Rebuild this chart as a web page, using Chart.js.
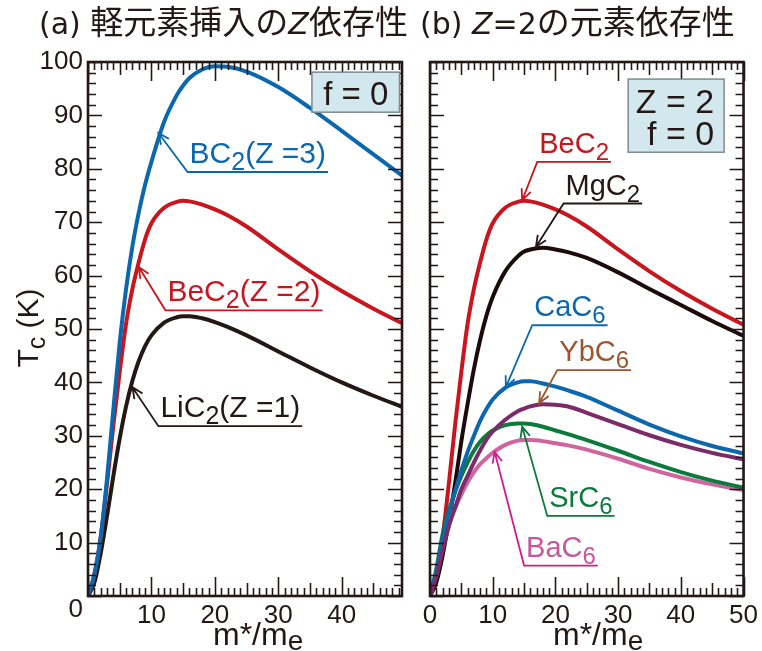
<!DOCTYPE html>
<html>
<head>
<meta charset="utf-8">
<script src="https://cdn.jsdelivr.net/npm/chart.js@4.4.1/dist/chart.umd.min.js"></script>
<style>
  html, body { margin: 0; padding: 0; background: #fff; }
  #wrap { position: relative; width: 762px; height: 651px; overflow: hidden; }
  #left { position: absolute; left: 0; top: 0; }
  #right { position: absolute; left: 416px; top: 0; }
</style>
</head>
<body>
<div id="wrap">
  <canvas id="left" width="416" height="651"></canvas>
  <canvas id="right" width="346" height="651"></canvas>
</div>
<script>
// m*/me values shared by every curve
const xs = [0, 1, 2, 3, 4, 5, 6, 7, 8, 9, 10, 12, 14, 15, 16, 18, 20, 22, 25, 30, 35, 40, 45, 50];

// (a) light-element intercalation, Tc (K)
const bc2  = [0, 4, 11, 22, 35, 47.5, 57.5, 65.5, 71.8, 77, 81.3, 88.8, 93.8, 95.6, 97.0, 98.6, 99.2, 99.1, 98.2, 95.3, 91.4, 87.1, 82.7, 78.3];
const bec2 = [0, 4, 11, 21, 32, 42, 51, 57.5, 62.5, 66.8, 69.8, 72.7, 73.8, 74.0, 73.9, 73.3, 72.4, 71.3, 69.2, 64.9, 60.8, 57.1, 53.8, 50.8];
const lic2 = [0, 2.5, 8, 15, 22.5, 29.5, 35.5, 40.3, 44.0, 46.8, 48.8, 51.2, 52.2, 52.4, 52.4, 52.0, 51.3, 50.4, 48.8, 45.8, 42.8, 40.0, 37.5, 35.2];

// (b) Z=2, element dependence, Tc (K)
const mgc2 = [0, 2.5, 7.5, 14, 21, 29, 36, 42.5, 48, 52.5, 56, 60.8, 63.6, 64.5, 64.9, 65.2, 64.9, 64.4, 63.3, 60.6, 57.5, 54.5, 51.5, 48.7];
const cac6 = [0, 4.5, 10.5, 15.5, 19.5, 23.5, 27, 30, 32.8, 35, 36.8, 39, 40, 40.2, 40.2, 39.8, 39.2, 38.5, 37.3, 34.7, 32.1, 29.9, 28.1, 26.7];
const ybc6 = [0, 3.5, 8.5, 13, 16.5, 20, 22.5, 25, 27.3, 29.3, 30.8, 33, 34.6, 35.1, 35.5, 35.9, 35.8, 35.5, 34.3, 32.2, 30.1, 28.3, 26.8, 25.6];
const src6 = [0, 5, 11.5, 16, 19.5, 22.5, 25, 27.2, 28.9, 30.1, 31, 32, 32.3, 32.3, 32.2, 31.7, 31, 30.3, 29.2, 27.2, 25.1, 23.2, 21.6, 20.3];
const bac6 = [0, 4.5, 10, 13.8, 16.5, 19, 21.3, 23.2, 24.7, 25.8, 26.8, 28.3, 29.1, 29.2, 29.2, 29.0, 28.6, 28.2, 27.4, 25.7, 23.8, 22.2, 20.9, 19.8];

// tick labels
const xLabelsA = [10, 20, 30, 40];
const xLabelsB = [0, 10, 20, 30, 40, 50];
const yLabels = [10, 20, 30, 40, 50, 60, 70, 80, 90, 100];

const INK = '#231815';
const BLUE = '#0b68ae';
const RED = '#c9151e';
const PURPLE = '#7a2b68';
const GREEN = '#0b7a3b';
const PINK = '#d0649f';
const BROWN = '#9b5630';
const MAGENTA = '#cf1f8c';
const SANS = '"Liberation Sans", Arial, sans-serif';
const JP = '"Noto Sans CJK JP", sans-serif';
const LAT = '"DejaVu Sans", sans-serif';

Chart.defaults.font.family = SANS;

function line(label, ys, color) {
  return {
    label,
    data: xs.map((x, i) => ({ x, y: ys[i] })),
    borderColor: color,
    borderWidth: 4,
    pointRadius: 0,
    fill: false,
    cubicInterpolationMode: 'monotone'
  };
}

function scales(xmax, xLabels, yWidth, showY) {
  return {
    x: {
      type: 'linear', min: 0, max: xmax,
      grid: { display: false, drawTicks: false },
      border: { display: false },
      ticks: {
        autoSkip: false, maxRotation: 0, padding: 4,
        color: INK, font: { size: 26 }
      },
      afterBuildTicks: s => { s.ticks = xLabels.map(v => ({ value: v })); },
      afterFit: s => { s.height = 55; }
    },
    y: {
      min: 0, max: 100,
      grid: { display: false, drawTicks: false },
      border: { display: false },
      ticks: {
        display: showY, autoSkip: false, padding: 5,
        color: INK, font: { size: 26 }
      },
      afterBuildTicks: s => { s.ticks = yLabels.map(v => ({ value: v })); },
      afterFit: s => { s.width = yWidth; }
    }
  };
}

// text made of runs: [{t, font, dy}]
function runs(ctx, parts, x, y) {
  for (const p of parts) {
    ctx.font = p.font;
    ctx.fillText(p.t, x, y + (p.dy || 0));
    x += ctx.measureText(p.t).width;
  }
  return x;
}
function runsWidth(ctx, parts) {
  let w = 0;
  for (const p of parts) { ctx.font = p.font; w += ctx.measureText(p.t).width; }
  return w;
}

// inward ticks and frame
const frame = {
  id: 'frame',
  afterDatasetsDraw(chart) {
    const { ctx, chartArea: a, scales: { x, y } } = chart;
    ctx.save();
    ctx.strokeStyle = INK;
    ctx.lineWidth = 1.6;
    ctx.beginPath();
    for (let v = 0; v <= x.max + 0.01; v += 1) {
      const px = Math.round(x.getPixelForValue(v)) + 0.5;
      const len = v % 10 === 0 ? 19 : v % 5 === 0 ? 13 : 8;
      ctx.moveTo(px, a.bottom); ctx.lineTo(px, a.bottom - len);
      ctx.moveTo(px, a.top); ctx.lineTo(px, a.top + len);
    }
    for (let v = 0; v <= 100; v += 2) {
      const py = Math.round(y.getPixelForValue(v)) + 0.5;
      const len = v % 10 === 0 ? 14 : 8;
      ctx.moveTo(a.left, py); ctx.lineTo(a.left + len, py);
      ctx.moveTo(a.right, py); ctx.lineTo(a.right - len, py);
    }
    ctx.stroke();
    ctx.lineWidth = 2.6;
    ctx.strokeRect(a.left, a.top, a.right - a.left, a.bottom - a.top);
    ctx.restore();
  }
};

// labelled arrows
function drawNotes(chart, notes, size) {
  const { ctx, scales: { x, y } } = chart;
  ctx.save();
  for (const n of notes) {
    const ux = x.getPixelForValue(n.at[0]);
    const uy = y.getPixelForValue(n.at[1]);
    const tx = x.getPixelForValue(n.tip[0]);
    const ty = y.getPixelForValue(n.tip[1]);
    const parts = [
      { t: n.pre, font: size + 'px ' + SANS },
      { t: n.sub, font: (size - 5) + 'px ' + SANS, dy: 7 }
    ];
    if (n.post) parts.push({ t: n.post, font: size + 'px ' + SANS });
    const w = runsWidth(ctx, parts);
    ctx.fillStyle = n.color;
    ctx.textBaseline = 'alphabetic';
    ctx.textAlign = 'left';
    runs(ctx, parts, ux + 2, uy - 9);
    const lc = n.lineColor || n.color;
    ctx.strokeStyle = lc;
    ctx.lineWidth = 1.8;
    ctx.beginPath();
    ctx.moveTo(ux + w + 4, uy);
    ctx.lineTo(ux, uy);
    ctx.lineTo(tx, ty);
    const ang = Math.atan2(ty - uy, tx - ux);
    const hl = 12, ha = 0.42;
    ctx.moveTo(tx - hl * Math.cos(ang - ha), ty - hl * Math.sin(ang - ha));
    ctx.lineTo(tx, ty);
    ctx.lineTo(tx - hl * Math.cos(ang + ha), ty - hl * Math.sin(ang + ha));
    ctx.stroke();
  }
  ctx.restore();
}

function drawBox(chart, box) {
  const { ctx, scales: { x, y } } = chart;
  const l = x.getPixelForValue(box.x0), r = x.getPixelForValue(box.x1);
  const t = y.getPixelForValue(box.y1), b = y.getPixelForValue(box.y0);
  ctx.save();
  ctx.fillStyle = '#d3e7ef';
  ctx.strokeStyle = '#7f8b90';
  ctx.lineWidth = 1.5;
  ctx.fillRect(l, t, r - l, b - t);
  ctx.strokeRect(l, t, r - l, b - t);
  ctx.fillStyle = INK;
  ctx.font = box.size + 'px ' + SANS;
  ctx.textBaseline = 'alphabetic';
  box.lines.forEach((s, i) => {
    if (box.align === 'center') {
      ctx.textAlign = 'center';
      ctx.fillText(s, (l + r) / 2, t + box.first + i * box.gap);
    } else {
      ctx.textAlign = 'right';
      ctx.fillText(s, r - 10, t + box.first + i * box.gap);
    }
  });
  ctx.restore();
}

function xTitle(ctx, x0) {
  ctx.fillStyle = INK;
  ctx.textAlign = 'left';
  ctx.textBaseline = 'alphabetic';
  runs(ctx, [
    { t: 'm*/m', font: '32px ' + SANS },
    { t: 'e', font: '28px ' + SANS, dy: 5 }
  ], x0, 645);
}

const notesA = [
  { pre: 'BC', sub: '2', post: '(Z =3)', color: BLUE, at: [15.7, 79.4], tip: [11.1, 86.7] },
  { pre: 'BeC', sub: '2', post: '(Z =2)', color: RED, at: [12.2, 53.5], tip: [8.0, 61.6] },
  { pre: 'LiC', sub: '2', post: '(Z =1)', color: INK, at: [11.1, 31.8], tip: [7.0, 39.1] }
];
const notesB = [
  { pre: 'BeC', sub: '2', color: RED, at: [17.1, 81.3], tip: [14.7, 74.1] },
  { pre: 'MgC', sub: '2', color: INK, at: [21.3, 73.5], tip: [16.9, 65.4] },
  { pre: 'CaC', sub: '6', color: BLUE, at: [16.3, 50.7], tip: [12.1, 39.1] },
  { pre: 'YbC', sub: '6', color: BROWN, at: [20.3, 42.3], tip: [17.4, 36.1] },
  { pre: 'SrC', sub: '6', color: GREEN, at: [18.7, 15.0], tip: [14.7, 31.7] },
  { pre: 'BaC', sub: '6', color: '#c9559a', lineColor: MAGENTA, at: [15.0, 5.7], tip: [10.3, 27.0] }
];

const panelA = {
  id: 'panelA',
  afterDraw(chart) {
    const { ctx } = chart;
    drawNotes(chart, notesA, 30);
    drawBox(chart, { x0: 35.3, x1: 49.1, y0: 90.6, y1: 98.1, size: 33, lines: ['f = 0'], align: 'center', first: 33, gap: 0 });
    ctx.save();
    // title
    ctx.fillStyle = INK;
    ctx.textAlign = 'left';
    ctx.textBaseline = 'alphabetic';
    const T = '33px ' + JP;
    runs(ctx, [
      { t: '(a) ', font: '30px ' + LAT },
      { t: '軽元素挿入の', font: T },
      { t: 'Z', font: 'italic 30px ' + LAT },
      { t: '依存性', font: T }
    ], 39, 34);
    // corner zero
    ctx.font = '26px ' + SANS;
    ctx.textAlign = 'right';
    ctx.fillText('0', 83, 617);
    // y title
    ctx.save();
    ctx.translate(38, 328);
    ctx.rotate(-Math.PI / 2);
    const yt = [
      { t: 'T', font: '30px ' + SANS },
      { t: 'c', font: '25px ' + SANS, dy: 7 },
      { t: ' (K)', font: '30px ' + SANS }
    ];
    ctx.textAlign = 'left';
    runs(ctx, yt, -runsWidth(ctx, yt) / 2, 0);
    ctx.restore();
    xTitle(ctx, 213);
    ctx.restore();
  }
};

const panelB = {
  id: 'panelB',
  afterDraw(chart) {
    const { ctx } = chart;
    drawNotes(chart, notesB, 29);
    drawBox(chart, { x0: 31.6, x1: 46.9, y0: 83.1, y1: 96.8, size: 34, lines: ['Z = 2', 'f = 0'], align: 'right', first: 34, gap: 32 });
    ctx.save();
    ctx.fillStyle = INK;
    ctx.textAlign = 'left';
    ctx.textBaseline = 'alphabetic';
    const T = '33px ' + JP;
    runs(ctx, [
      { t: '(b) ', font: '30px ' + LAT },
      { t: 'Z', font: 'italic 30px ' + LAT },
      { t: '=2', font: '30px ' + LAT },
      { t: 'の元素依存性', font: T }
    ], 4, 34);
    xTitle(ctx, 137);
    ctx.restore();
  }
};

new Chart(document.getElementById('left'), {
  type: 'line',
  data: {
    datasets: [
      line('BC2 (Z=3)', bc2, BLUE),
      line('BeC2 (Z=2)', bec2, RED),
      line('LiC2 (Z=1)', lic2, INK)
    ]
  },
  options: {
    responsive: false,
    animation: false,
    layout: { padding: { top: 62, right: 14, left: 0, bottom: 0 } },
    plugins: { legend: { display: false }, tooltip: { enabled: false } },
    scales: scales(49.5, xLabelsA, 88, true)
  },
  plugins: [frame, panelA]
});

new Chart(document.getElementById('right'), {
  type: 'line',
  data: {
    datasets: [
      line('YbC6', ybc6, PURPLE),
      line('CaC6', cac6, BLUE),
      line('SrC6', src6, GREEN),
      line('BaC6', bac6, PINK),
      line('MgC2', mgc2, '#1c0b0b'),
      line('BeC2', bec2, RED)
    ]
  },
  options: {
    responsive: false,
    animation: false,
    layout: { padding: { top: 62, right: 15, left: 0, bottom: 0 } },
    plugins: { legend: { display: false }, tooltip: { enabled: false } },
    scales: scales(50, xLabelsB, 14, false)
  },
  plugins: [frame, panelB]
});
</script>
</body>
</html>
